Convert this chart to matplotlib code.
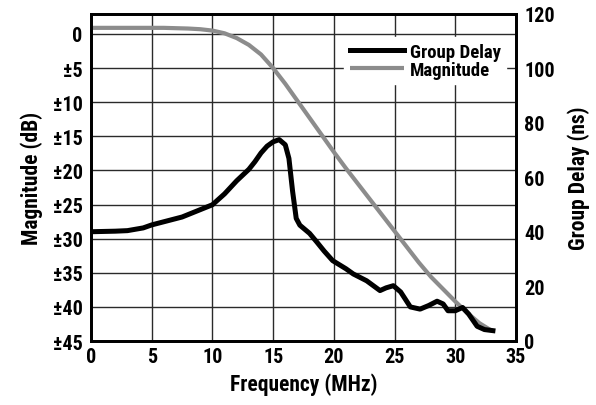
import matplotlib
matplotlib.use("Agg")
import matplotlib.pyplot as plt
from matplotlib import font_manager

# ---- data ----
mag_freq = [0, 2, 4, 6, 8, 9, 10, 11, 12, 13, 14, 15, 16, 17, 18, 19, 20,
            21, 22, 23, 24, 25, 26, 27, 28, 29, 30, 31, 32, 33]
mag_db = [0.9, 0.9, 0.9, 0.9, 0.8, 0.7, 0.5, 0.1, -0.6, -1.6, -3.0, -5.0,
          -7.3, -9.8, -12.3, -14.8, -17.3, -19.7, -22.0, -24.3, -26.6, -28.9,
          -31.2, -33.5, -35.6, -37.4, -39.2, -40.9, -42.4, -43.5]

gd_freq = [0, 2, 3, 4.3, 5, 7.5, 10, 11, 12, 13, 13.5, 14, 14.5, 15, 15.5,
           16.0, 16.3, 16.6, 16.9, 17.2, 18.0, 18.6, 19.2, 19.9, 21.0, 21.6,
           22.7, 23.8, 24.3, 24.9, 25.5, 26.3, 27.1, 27.8, 28.5, 29.0, 29.4,
           30.0, 30.6, 31.1, 31.8, 32.4, 33.1]
gd_ns = [40.1, 40.3, 40.5, 41.5, 42.6, 45.5, 50.0, 54.0, 58.8, 63.0, 65.8,
         69.0, 71.5, 73.1, 73.9, 72.0, 67.0, 55.0, 45.0, 42.5, 39.5, 36.3,
         33.0, 29.5, 26.5, 24.6, 22.1, 18.5, 19.5, 20.3, 18.0, 12.5, 11.7,
         13.0, 14.6, 13.6, 11.1, 11.1, 12.3, 9.9, 5.4, 4.2, 3.8]

x_ticks = [0, 5, 10, 15, 20, 25, 30, 35]
mag_ticks = [0, -5, -10, -15, -20, -25, -30, -35, -40, -45]
mag_tick_labels = ["0", "±5", "±10", "±15", "±20", "±25", "±30", "±35", "±40", "±45"]
gd_ticks = [0, 20, 40, 60, 80, 100, 120]

# ---- font ----
names = {f.name for f in font_manager.fontManager.ttflist}
fams = [n for n in ("Liberation Sans Narrow", "Roboto Condensed", "DejaVu Sans") if n in names]
plt.rcParams["font.family"] = fams + ["DejaVu Sans"]
plt.rcParams["font.weight"] = "bold"
plt.rcParams["font.stretch"] = "condensed"

fig = plt.figure(figsize=(5.96, 4.06), dpi=100)
ax = fig.add_axes([91 / 596, 1 - 342 / 406, 425 / 596, 327 / 406])
ax2 = ax.twinx()

ax.set_xlim(0, 35)
ax.set_ylim(-45, 2.93)
ax2.set_ylim(0, 120)

ax.set_xticks(x_ticks)
ax.set_yticks(mag_ticks)
ax.set_yticklabels(mag_tick_labels)
ax2.set_yticks(gd_ticks)

ax.grid(True, color="#2a2a2a", linewidth=1.0)
ax.set_axisbelow(True)

l_mag, = ax.plot(mag_freq, mag_db, color="#8c8c8c", linewidth=3.0,
                 solid_capstyle="butt", label="Magnitude")
l_gd, = ax2.plot(gd_freq, gd_ns, color="black", linewidth=3.6,
                 solid_joinstyle="round", label="Group Delay")

for a in (ax, ax2):
    for s in a.spines.values():
        s.set_linewidth(2.0)
        s.set_color("black")
    a.tick_params(length=0, labelsize=14.5, pad=6)
ax.tick_params(axis="x", pad=4)

ax.set_xlabel("Frequency (MHz)", fontsize=15.5, fontweight="bold", labelpad=5)
ax.set_ylabel("Magnitude (dB)", fontsize=15.5, fontweight="bold", labelpad=7)
ax2.set_ylabel("Group Delay (ns)", fontsize=15.5, fontweight="bold", labelpad=9)

leg = ax2.legend(handles=[l_gd, l_mag], loc="upper left",
                 bbox_to_anchor=(0.595, 0.93), frameon=True, fancybox=False,
                 edgecolor="white", facecolor="white", framealpha=1.0,
                 fontsize=13.5, handlelength=2.9, handletextpad=0.3,
                 labelspacing=0.0, borderpad=0.3, borderaxespad=0)
for t in leg.get_texts():
    t.set_fontweight("bold")

fig.savefig("out.png", dpi=100)
